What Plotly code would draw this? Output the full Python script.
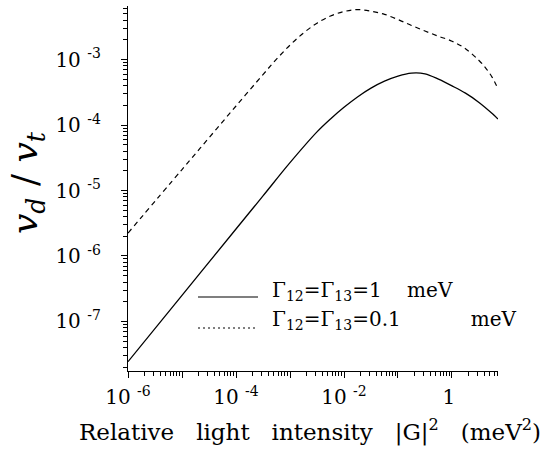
import plotly.graph_objects as go

# Data (log-log)
x_narrow = [1e-6, 1e-5, 3.162e-5, 1e-4, 3.162e-4, 5.623e-4, 1e-3, 1.778e-3, 3.162e-3,
            5.623e-3, 1e-2, 1.778e-2, 3.162e-2, 5.623e-2, 0.1, 0.1778, 0.3162, 0.5623,
            1.0, 1.778, 3.162, 4.217, 5.623, 7.112]
y_narrow = [2.239e-6, 2.089e-5, 6.383e-5, 1.950e-4, 5.888e-4, 1.012e-3, 1.660e-3, 2.541e-3,
            3.589e-3, 4.624e-3, 5.395e-3, 5.781e-3, 5.470e-3, 4.898e-3, 4.074e-3, 3.311e-3,
            2.723e-3, 2.265e-3, 1.905e-3, 1.462e-3, 9.661e-4, 7.413e-4, 5.248e-4, 3.548e-4]

x_broad = [1e-6, 1e-5, 1e-4, 3.162e-4, 1e-3, 3.162e-3, 5.623e-3, 1e-2, 1.778e-2, 3.162e-2,
           5.623e-2, 0.1, 0.1778, 0.3162, 0.5623, 1.0, 1.778, 3.162, 5.623, 7.112]
y_broad = [2.432e-8, 2.506e-7, 2.582e-6, 8.279e-6, 2.661e-5, 7.852e-5, 1.239e-4, 1.866e-4,
           2.685e-4, 3.656e-4, 4.667e-4, 5.572e-4, 6.194e-4, 6.039e-4, 5.012e-4, 3.963e-4,
           3.062e-4, 2.213e-4, 1.483e-4, 1.233e-4]

x_tickvals = [1e-6, 1e-5, 1e-4, 1e-3, 1e-2, 1e-1, 1]
x_ticktext = ["10 <sup>-6</sup>", "", "10 <sup>-4</sup>", "", "10 <sup>-2</sup>", "", "1\u00a0"]
y_tickvals = [1e-7, 1e-6, 1e-5, 1e-4, 1e-3]
y_ticktext = ["10 <sup>-7</sup>", "10 <sup>-6</sup>", "10 <sup>-5</sup>", "10 <sup>-4</sup>", "10 <sup>-3</sup>"]

NB = "\u00a0"
label_broad = "Γ<sub>12</sub>=Γ<sub>13</sub>=1" + NB * 4 + "meV"
label_narrow = "Γ<sub>12</sub>=Γ<sub>13</sub>=0.1" + NB * 11 + "meV"
x_title = (NB * 3).join(["Relative", "light", "intensity", "|G|<sup>2</sup>", "(meV<sup>2</sup>)"])
y_title = "<i>v</i><sub><i>d</i></sub>" + NB + "/" + NB + "<i>v</i><sub><i>t</i></sub>"

SERIF = "DejaVu Serif"
L, R, T, B = 128, 47, 6, 83
PW, PH = 545 - L - R, 454 - T - B


def px_x(p):
    return (p - L) / PW


def px_y(p):
    return (454 - B - p) / PH


fig = go.Figure()
fig.add_trace(go.Scatter(x=x_broad, y=y_broad, mode="lines", line_shape="spline",
                         line=dict(color="black", width=1.3), showlegend=False))
fig.add_trace(go.Scatter(x=x_narrow, y=y_narrow, mode="lines", line_shape="spline",
                         line=dict(color="black", width=1.2, dash="5px,4px"), showlegend=False))

axis_common = dict(type="log", showgrid=False, zeroline=False, showline=True,
                   linecolor="black", linewidth=1.3, ticks="outside", ticklen=6,
                   tickwidth=1.2, tickcolor="black",
                   tickfont=dict(family=SERIF, size=20, color="black"),
                   minor=dict(ticks="outside", ticklen=4, tickwidth=1, tickcolor="black", dtick="D1"))

fig.update_xaxes(range=[-6, 0.852], tickmode="array", tickvals=x_tickvals,
                 ticktext=x_ticktext, ticklabelstandoff=2, **axis_common)
fig.update_yaxes(range=[-7.756, -2.183], tickmode="array", tickvals=y_tickvals,
                 ticktext=y_ticktext, ticklabelstandoff=16, **axis_common)

# legend decoration
fig.add_shape(type="line", xref="paper", yref="paper", x0=px_x(198), x1=px_x(258),
              y0=px_y(297), y1=px_y(297), line=dict(color="black", width=1.2))
fig.add_shape(type="line", xref="paper", yref="paper", x0=px_x(198), x1=px_x(258),
              y0=px_y(328), y1=px_y(328), line=dict(color="black", width=1, dash="2px,3px"))
fig.add_annotation(xref="paper", yref="paper", x=px_x(270), y=px_y(291), xanchor="left",
                   yanchor="middle", text=label_broad, showarrow=False,
                   font=dict(family=SERIF, size=20, color="black"))
fig.add_annotation(xref="paper", yref="paper", x=px_x(270), y=px_y(320), xanchor="left",
                   yanchor="middle", text=label_narrow, showarrow=False,
                   font=dict(family=SERIF, size=20, color="black"))

# axis titles
fig.add_annotation(xref="paper", yref="paper", x=px_x(310), y=px_y(430),
                   xanchor="center", yanchor="middle", showarrow=False, text=x_title,
                   font=dict(family=SERIF, size=23, color="black"))
fig.add_annotation(xref="paper", yref="paper", x=px_x(27), y=px_y(183),
                   xanchor="center", yanchor="middle", showarrow=False, textangle=-90,
                   text=y_title, font=dict(family=SERIF, size=36, color="black"))

fig.update_layout(width=545, height=454, margin=dict(l=L, r=R, t=T, b=B),
                  plot_bgcolor="white", paper_bgcolor="white")

fig.write_html("out.html", config={"displayModeBar": False},
               post_script="document.body.style.margin='0';")
